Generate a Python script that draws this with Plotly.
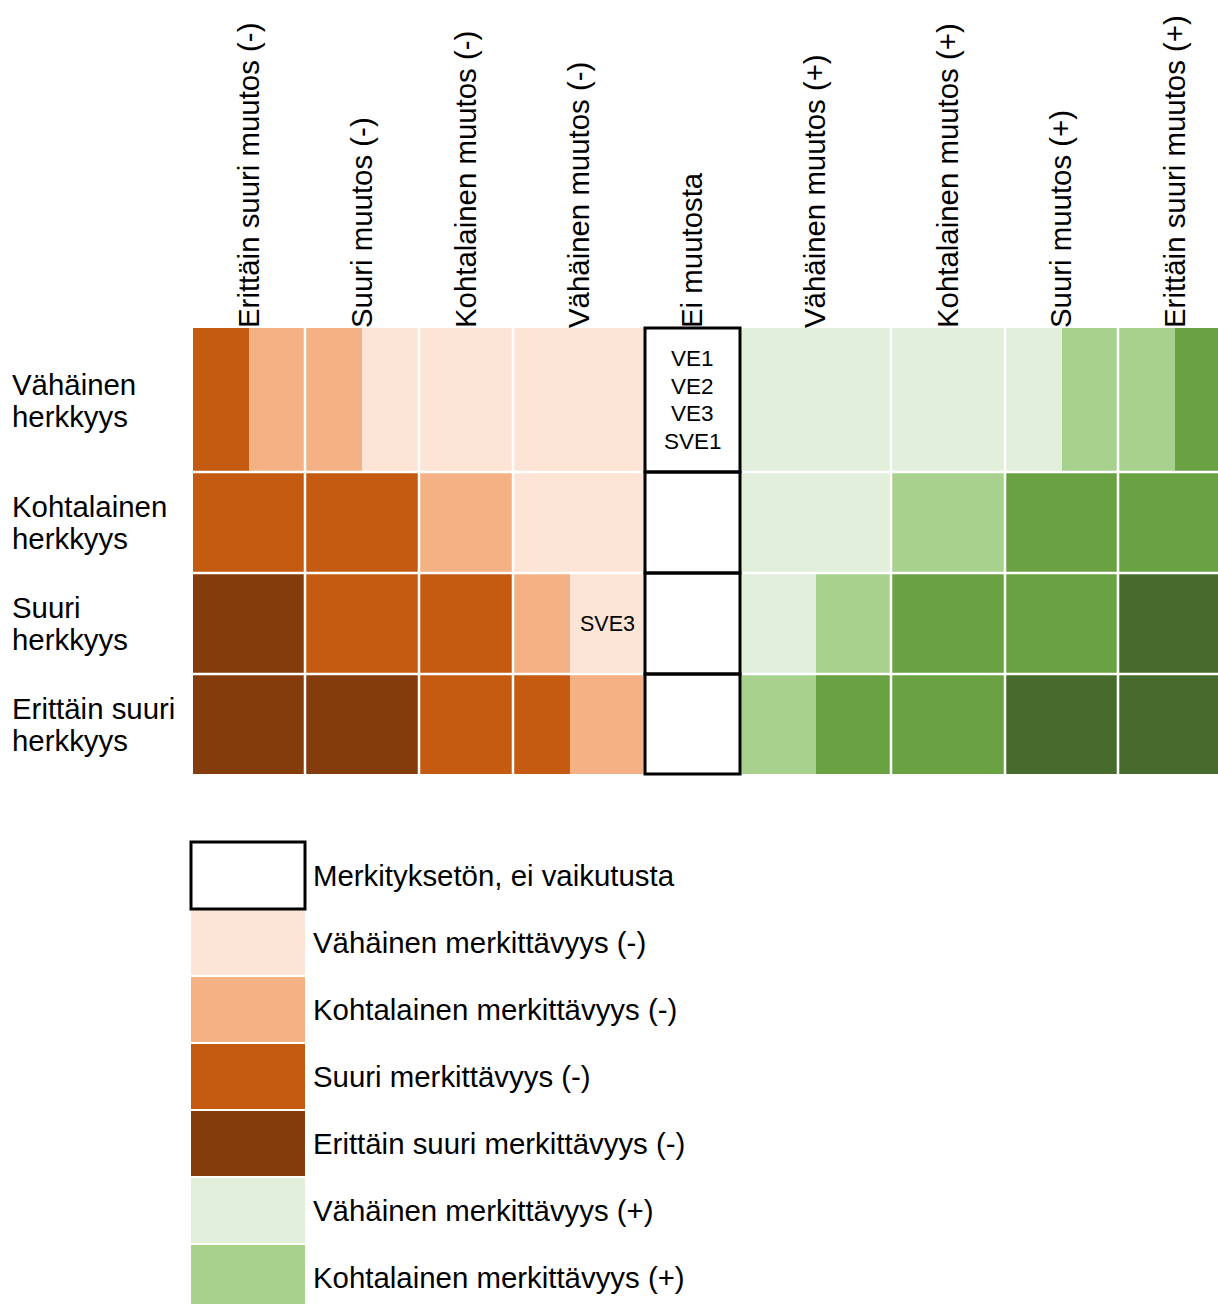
import numpy as np
import plotly.graph_objects as go

W, H = 1218, 1304

# --- data -------------------------------------------------------------
columns = ["Erittäin suuri muutos (-)", "Suuri muutos (-)", "Kohtalainen muutos (-)",
           "Vähäinen muutos (-)", "Ei muutosta", "Vähäinen muutos (+)",
           "Kohtalainen muutos (+)", "Suuri muutos (+)", "Erittäin suuri muutos (+)"]
rows = ["Vähäinen<br>herkkyys", "Kohtalainen<br>herkkyys",
        "Suuri<br>herkkyys", "Erittäin suuri<br>herkkyys"]

levels = ["Merkityksetön, ei vaikutusta", "Vähäinen merkittävyys (-)",
          "Kohtalainen merkittävyys (-)", "Suuri merkittävyys (-)",
          "Erittäin suuri merkittävyys (-)", "Vähäinen merkittävyys (+)",
          "Kohtalainen merkittävyys (+)", "Suuri merkittävyys (+)",
          "Erittäin suuri merkittävyys (+)"]
level_colors = ["#FFFFFF", "#FCE4D6", "#F4B183", "#C55A11", "#843C0C",
                "#E2EFDA", "#A9D18E", "#6AA142", "#476B2C"]

# significance class of the left / right part of each cell (index into levels)
left_class = [
    [3, 2, 1, 1, 0, 5, 5, 5, 6],
    [3, 3, 2, 1, 0, 5, 6, 7, 7],
    [4, 3, 3, 2, 0, 5, 7, 7, 8],
    [4, 4, 3, 3, 0, 6, 7, 8, 8],
]
right_class = [
    [2, 1, 1, 1, 0, 5, 5, 6, 7],
    [3, 3, 2, 1, 0, 5, 6, 7, 7],
    [4, 3, 3, 1, 0, 6, 7, 7, 8],
    [4, 4, 3, 2, 0, 7, 7, 8, 8],
]

# cell notes: (row, column, part, text, size)
notes = [(0, 4, "full", "VE1<br>VE2<br>VE3<br>SVE1", 22.5),
         (2, 3, "right", "SVE3", 21.5)]

# table geometry (column widths / row heights as in the original table)
col_widths = [112, 114, 94, 132, 95, 151, 114, 113, 114]
row_heights = [144, 101, 101, 100]
split_at = [0.5, 0.5, 0.5, 57 / 132, 0.5, 0.5, 0.5, 0.5, 0.5]

# --- build ------------------------------------------------------------
col_edges = np.concatenate([[0], np.cumsum(col_widths)])
row_edges = np.concatenate([[0], np.cumsum(row_heights)])

sub_edges = [0.0]
for w, s in zip(col_widths, split_at):
    sub_edges += [sub_edges[-1] + w * s, sub_edges[-1] + w]

z = []
for lc, rc in zip(left_class, right_class):
    r = []
    for a, b in zip(lc, rc):
        r += [a, b]
    z.append(r)

n = len(levels)
cscale = []
for i, c in enumerate(level_colors):
    cscale += [[i / n, c], [(i + 1) / n, c]]

FONT = "Liberation Sans, Arial, sans-serif"
FS = 29.4

fig = go.Figure()
fig.add_trace(go.Heatmap(x=sub_edges, y=row_edges, z=z, colorscale=cscale,
                         zmin=-0.5, zmax=n - 0.5, showscale=False,
                         hoverinfo="skip", xaxis="x", yaxis="y"))

# legend as a one-column heatmap
fig.add_trace(go.Heatmap(x=[0, 1], y=list(range(n + 1)),
                         z=[[i] for i in range(n)], colorscale=cscale,
                         zmin=-0.5, zmax=n - 0.5, showscale=False, ygap=2,
                         hoverinfo="skip", xaxis="x2", yaxis="y2"))

shapes = []
# white cell separators
for xe in col_edges[1:-1]:
    shapes.append(dict(type="line", xref="x", yref="y", x0=xe, x1=xe,
                       y0=row_edges[0], y1=row_edges[-1],
                       line=dict(color="white", width=2.5)))
for ye in row_edges[1:-1]:
    shapes.append(dict(type="line", xref="x", yref="y", x0=col_edges[0],
                       x1=col_edges[-1], y0=ye, y1=ye,
                       line=dict(color="white", width=2.5)))
# black frame for "Ei muutosta" cells
ei = columns.index("Ei muutosta")
for r in range(len(rows)):
    shapes.append(dict(type="rect", xref="x", yref="y",
                       x0=col_edges[ei], x1=col_edges[ei + 1],
                       y0=row_edges[r], y1=row_edges[r + 1],
                       line=dict(color="black", width=3)))
# black frame for the first legend box
shapes.append(dict(type="rect", xref="x2", yref="y2", x0=0, x1=1, y0=0, y1=1,
                   line=dict(color="black", width=3)))


def lines(text, spacing, **kw):
    # one annotation per text line so the line spacing can be set
    parts = text.split("<br>")
    k = len(parts)
    return [dict(text=p, yshift=-(i - (k - 1) / 2) * spacing, showarrow=False,
                 yanchor="middle", **kw) for i, p in enumerate(parts)]


annotations = []
for r, lab in enumerate(rows):
    annotations += lines(lab, 32, xref="paper", yref="y", x=10 / W,
                         y=(row_edges[r] + row_edges[r + 1]) / 2,
                         xanchor="left", font=dict(size=FS, color="black"))
for r, c, part, txt, sz in notes:
    w = col_widths[c]
    if part == "right":
        xc = col_edges[c] + w * split_at[c] + w * (1 - split_at[c]) / 2
    else:
        xc = col_edges[c] + w / 2
    annotations += lines(txt, 27.6, xref="x", yref="y", x=xc,
                         y=(row_edges[r] + row_edges[r + 1]) / 2,
                         xanchor="center", font=dict(size=sz, color="black"))

col_centers = (col_edges[:-1] + col_edges[1:]) / 2

# pixel placement of the two panels
x0_px, y_top_px, y_bot_px = 191, 326, 776
lg_top_px, lg_pitch = 840, 67

fig.update_layout(
    width=W, height=H, margin=dict(l=0, r=0, t=0, b=0),
    paper_bgcolor="white", plot_bgcolor="white",
    font=dict(family=FONT, size=FS, color="black"),
    shapes=shapes, annotations=annotations,
    xaxis=dict(domain=[x0_px / W, 1], range=[-2, W - 193], side="top",
               tickvals=col_centers, ticktext=columns, tickangle=-90,
               ticks="", ticklabelstandoff=-3, showgrid=False, zeroline=False,
               showline=False, fixedrange=True),
    yaxis=dict(domain=[1 - y_bot_px / H, 1 - y_top_px / H],
               range=[row_edges[-1] + 2, -2], showticklabels=False,
               showgrid=False, zeroline=False, ticks=""),
    xaxis2=dict(domain=[189 / W, 307 / W], range=[-2 / 114, 1 + 2 / 114],
                anchor="y2", showticklabels=False, showgrid=False,
                zeroline=False, ticks=""),
    yaxis2=dict(domain=[0, 1 - lg_top_px / H],
                range=[(H - lg_top_px) / lg_pitch - 2 / lg_pitch, -2 / lg_pitch],
                anchor="x2", side="right",
                tickvals=[i + 0.5 for i in range(n)], ticktext=levels,
                ticks="", ticklabelstandoff=5, showgrid=False, zeroline=False),
)

fig.write_html("out.html", config={"displayModeBar": False},
               post_script="document.body.style.margin='0';")
